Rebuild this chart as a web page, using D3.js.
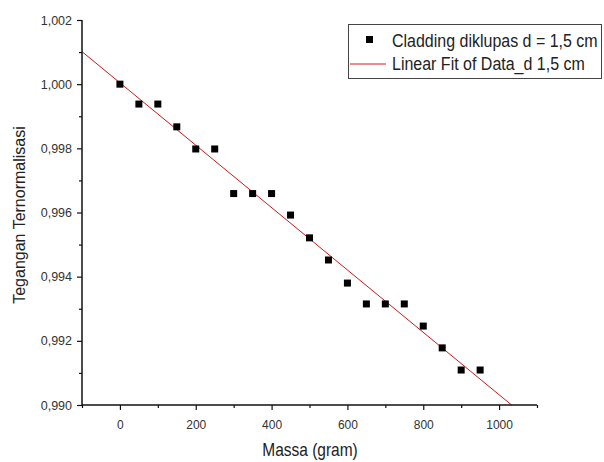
<!DOCTYPE html>
<html>
<head>
<meta charset="utf-8">
<script src="https://cdn.jsdelivr.net/npm/d3@7"></script>
<style>
  body { margin: 0; background: #fff; }
  svg { font-family: "Liberation Sans", Arial, sans-serif; }
</style>
</head>
<body>
<main></main>
<script>
// data
let massa = [0, 50, 100, 150, 200, 250, 300, 350, 400, 450, 500, 550, 600, 650, 700, 750, 800, 850, 900, 950]
let tegangan = [1.0000, 0.99938, 0.99938, 0.99867, 0.99798, 0.99798, 0.99659, 0.99659, 0.99659, 0.99592,
                0.99521, 0.99452, 0.99380, 0.99315, 0.99315, 0.99315, 0.99246, 0.99178, 0.99109, 0.99109]
let xTicks = [0, 200, 400, 600, 800, 1000]
let yTicks = [0.990, 0.992, 0.994, 0.996, 0.998, 1.000, 1.002]
let legendLabels = ["Cladding diklupas d = 1,5 cm", "Linear Fit of Data_d 1,5 cm"]

let width = 604, height = 462

let svg = d3.select('main')
    .append('svg')
    .attr('width', width)
    .attr('height', height)

let x = d3.scaleLinear().domain([-100, 1100]).range([82, 537])
let y = d3.scaleLinear().domain([0.990, 1.002]).range([405, 20])

let comma = d => d3.format('.3f')(d).replace('.', ',')

// linear fit (least squares)
let mx = d3.mean(massa), my = d3.mean(tegangan)
let sxy = d3.sum(massa, (m, i) => (m - mx) * (tegangan[i] - my))
let sxx = d3.sum(massa, m => (m - mx) * (m - mx))
let slope = sxy / sxx
let icept = my - slope * mx
let xEnd = (0.990 - icept) / slope

svg.append('line')
    .attr('x1', x(-100))
    .attr('y1', y(icept + slope * -100))
    .attr('x2', x(xEnd))
    .attr('y2', y(0.990))
    .style('stroke', '#d01818')
    .style('stroke-width', '1px')

// points
svg.selectAll('rect.pt')
    .data(massa)
    .enter()
    .append('rect')
    .attr('class', 'pt')
    .attr('x', (m) => x(m) - 3.5)
    .attr('y', (m, i) => y(tegangan[i]) - 3.5)
    .attr('width', 7)
    .attr('height', 7)
    .style('fill', 'black')

// axes
let xAxis = svg.append('g')
    .attr('transform', 'translate(0,405)')
    .call(d3.axisBottom(x).tickValues(xTicks).tickSize(5).tickPadding(10).tickFormat(d3.format('d')))
let xMinor = svg.append('g')
    .attr('transform', 'translate(0,405)')
    .call(d3.axisBottom(x).tickValues(d3.range(-100, 1101, 200)).tickSize(3).tickFormat(''))

let yAxis = svg.append('g')
    .attr('transform', 'translate(82,0)')
    .call(d3.axisLeft(y).tickValues(yTicks).tickSize(5).tickPadding(5).tickFormat(comma))
let yMinor = svg.append('g')
    .attr('transform', 'translate(82,0)')
    .call(d3.axisLeft(y).tickValues(d3.range(0.991, 1.0015, 0.002)).tickSize(3).tickFormat(''))

for (let g of [xAxis, xMinor, yAxis, yMinor]) {
    g.select('.domain').style('stroke', '#111').style('stroke-width', '1.5px')
    g.selectAll('.tick line').style('stroke', '#111').style('stroke-width', '1.2px')
    g.selectAll('.tick text')
        .style('font-family', '"Liberation Sans", Arial, sans-serif')
        .style('font-size', '12px')
        .style('fill', '#333')
}
yAxis.selectAll('.tick text').style('font-size', '12.5px')
xAxis.select('.domain').attr('d', 'M82,0H537')
yAxis.select('.domain').attr('d', 'M0,20V405')
xMinor.select('.domain').remove()
yMinor.select('.domain').remove()

// axis titles
svg.append('text')
    .attr('transform', 'translate(310,456) scale(1,1.15)')
    .attr('text-anchor', 'middle')
    .style('font-size', '15.5px')
    .style('fill', '#222')
    .text('Massa (gram)')

svg.append('text')
    .attr('transform', 'translate(25,215) rotate(-90)')
    .attr('text-anchor', 'middle')
    .style('font-size', '16px')
    .style('fill', '#222')
    .text('Tegangan Ternormalisasi')

// legend
let legend = svg.append('g')
legend.append('rect')
    .attr('x', 348.5)
    .attr('y', 24.5)
    .attr('width', 253)
    .attr('height', 54)
    .style('fill', 'white')
    .style('stroke', '#444')
    .style('stroke-width', '1px')
legend.append('rect')
    .attr('x', 366)
    .attr('y', 36)
    .attr('width', 7)
    .attr('height', 7)
    .style('fill', 'black')
legend.append('line')
    .attr('x1', 350)
    .attr('x2', 386)
    .attr('y1', 64)
    .attr('y2', 64)
    .style('stroke', '#d01818')
    .style('stroke-width', '1px')
legend.selectAll('text.lg')
    .data(legendLabels)
    .enter()
    .append('text')
    .attr('class', 'lg')
    .attr('transform', (d, i) => `translate(392,${47 + i * 23}) scale(1,1.12)`)
    .style('font-size', '16px')
    .style('fill', '#222')
    .text(d => d)
</script>
</body>
</html>
